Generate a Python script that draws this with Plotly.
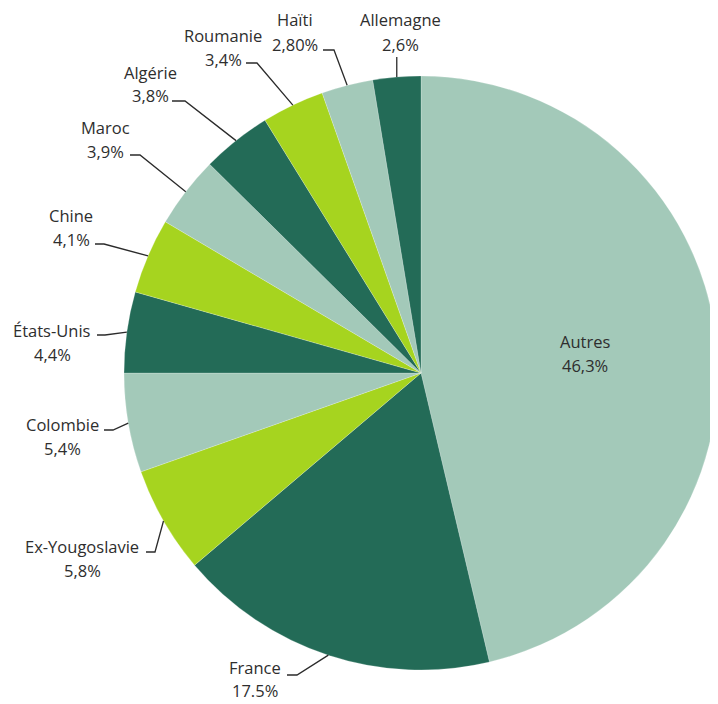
import math
import plotly.graph_objects as go

# ---- data ----
countries = ["Autres", "France", "Ex-Yougoslavie", "Colombie", "États-Unis", "Chine",
             "Maroc", "Algérie", "Roumanie", "Haïti", "Allemagne"]
shares = [46.3, 17.5, 5.8, 5.4, 4.4, 4.1, 3.9, 3.8, 3.4, 2.8, 2.6]
pct_labels = ["46,3%", "17.5%", "5,8%", "5,4%", "4,4%", "4,1%", "3,9%", "3,8%",
              "3,4%", "2,80%", "2,6%"]

# ---- style ----
LIGHT, DARK, LIME = "#A3C9B9", "#236B57", "#A6D41F"
slice_colors = [LIGHT, DARK, LIME, LIGHT, DARK, LIME, LIGHT, DARK, LIME, LIGHT, DARK]
TEXT_COLOR = "#2e2e2e"
FONT = "Open Sans"
FSIZE = 16.5
LINE_PITCH = 24

OFF = 8  # default page body margin
W, H = 718 - OFF, 704 - OFF
ML, MT, S = 124 - OFF, 76 - OFF, 594
MB = H - MT - S
CX, CY, R = ML + S / 2, MT + S / 2, S / 2

# label layout in screen pixels: name centre (x, y), hook start x, hook end x, hook y
label_layout = {
    1: (255, 667, 287, 297, 675),
    2: (82, 546, 146, 155, 552),
    3: (62, 424, 104, 113, 430),
    4: (52, 330, 97, 105, 335),
    5: (71, 215, 95, 104, 244),
    6: (105, 127, 130, 140, 155),
    7: (150, 72, 172, 185, 101),
    8: (223, 35, 246, 257, 63),
    9: (295, 20, 323, 334, 50),
    10: (400, 20, None, None, 57),
}
AUTRES_R_FRAC = 0.555


def px(x):
    return (x - ML) / S


def py(y):
    return 1 - (y - MT) / S


fig = go.Figure(go.Pie(
    labels=countries, values=shares, sort=False, direction="clockwise", rotation=0,
    marker=dict(colors=slice_colors, line=dict(color="rgba(255,255,255,0.35)", width=0.6)),
    textinfo="none", hoverinfo="label+percent", showlegend=False,
    domain=dict(x=[0, 1], y=[0, 1]),
))

total = sum(shares)
cum = 0.0
annotations = []
shapes = []
for i, v in enumerate(shares):
    mid = (cum + v / 2) / total
    cum += v
    th = 2 * math.pi * mid
    ex, ey = CX + R * math.sin(th), CY - R * math.cos(th)
    if i == 0:
        rr = R * AUTRES_R_FRAC
        nx, ny = CX + rr * math.sin(th), CY - rr * math.cos(th) - LINE_PITCH / 2
    else:
        sx, sy, hx1, hx2, hy = label_layout[i]
        nx, ny = sx - OFF, sy - OFF
        hy -= OFF
        if hx1 is None:
            path = f"M {px(ex)} {py(hy)} L {px(ex)} {py(ey)}"
        else:
            hx1 -= OFF
            hx2 -= OFF
            path = (f"M {px(hx1)} {py(hy)} L {px(hx2)} {py(hy)} "
                    f"L {px(ex)} {py(ey)}")
        shapes.append(dict(type="path", xref="paper", yref="paper", path=path,
                           line=dict(color="#2b2b2b", width=1.3)))
    for k, t in enumerate([countries[i], pct_labels[i]]):
        annotations.append(dict(
            x=px(nx), y=py(ny + k * LINE_PITCH), xref="paper", yref="paper",
            text=t, showarrow=False, xanchor="center", yanchor="middle",
            borderpad=0,
            font=dict(family=FONT, size=FSIZE, color=TEXT_COLOR)))

fig.update_layout(
    width=W, height=H,
    margin=dict(l=ML, r=max(W - ML - S, 0), t=MT, b=MB),
    paper_bgcolor="white", plot_bgcolor="white",
    annotations=annotations, shapes=shapes,
)

fig.write_html("out.html")
